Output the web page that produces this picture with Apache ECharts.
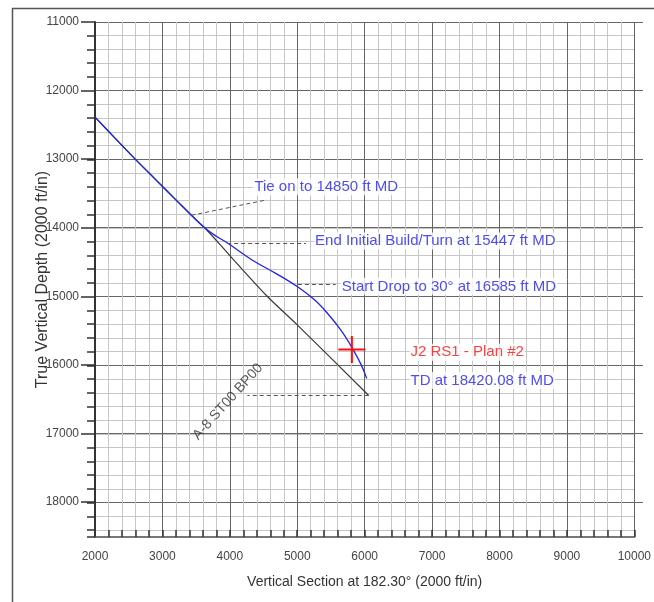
<!DOCTYPE html>
<html>
<head>
<meta charset="utf-8">
<title>Vertical Section</title>
<script src="https://cdn.jsdelivr.net/npm/echarts@6/dist/echarts.min.js"></script>
<style>
html, body { margin: 0; padding: 0; background: #fff; }
#chart { width: 654px; height: 602px; }
</style>
</head>
<body>
<div id="chart"></div>
<script>
// vertical section (ft) and true vertical depth (ft)
var planVs  = [2000, 2300, 2600, 2900, 3200, 3430, 3630, 3800, 3960, 4330, 4680, 5010, 5260, 5450, 5650, 5790, 5940, 6030];
var planTvd = [12385, 12695, 13000, 13295, 13590, 13815, 14000, 14120, 14215, 14465, 14660, 14860, 15050, 15245, 15490, 15705, 15975, 16190];
var refVs   = [2000, 2300, 2600, 2900, 3200, 3430, 3630, 3990, 4550, 5000, 6060];
var refTvd  = [12385, 12695, 13000, 13295, 13590, 13815, 14000, 14390, 14990, 15410, 16440];
var targetVs = 5810, targetTvd = 15770;

var noteText = ['Tie on to 14850 ft MD', 'End Initial Build/Turn at 15447 ft MD',
                'Start Drop to 30\u00b0 at 16585 ft MD', 'J2 RS1 - Plan #2', 'TD at 18420.08 ft MD'];
var noteVs  = [4350, 5250, 5645, 6665, 6665];
var noteTvd = [13400, 14190, 14850, 15810, 16220];

// dashed leaders: well point -> note
var leadFromVs  = [3430, 3960, 5010, 6060];
var leadFromTvd = [13815, 14215, 14820, 16440];
var leadToVs    = [4550, 5130, 5570, 4260];
var leadToTvd   = [13590, 14215, 14820, 16440];

var wellName = 'A-8 ST00 BP00', wellNameVs = 3970, wellNameTvd = 16530;

var FONT = 'Liberation Sans, Arial, sans-serif';
var BLUE = '#2020f0', RED = '#ff1010';

function pairs(a, b) { return a.map(function (v, i) { return [v, b[i]]; }); }
function plain(v) { return String(v); }

var leaders = leadFromVs.map(function (v, i) {
  return [{ coord: [v, leadFromTvd[i]] }, { coord: [leadToVs[i], leadToTvd[i]] }];
});

var notes = noteText.map(function (t, i) {
  return {
    value: [noteVs[i], noteTvd[i]],
    label: { formatter: t, color: i === 3 ? RED : BLUE }
  };
});

var chart = echarts.init(document.getElementById('chart'));
chart.setOption({
  animation: false,
  textStyle: { fontFamily: FONT },
  graphic: [{
    type: 'rect', shape: { x: 12.5, y: 8.5, width: 800, height: 800 },
    style: { fill: 'none', stroke: '#555', lineWidth: 1.5 }, silent: true
  }],
  grid: [
    { left: 95, right: 11, top: 22, bottom: 65 },
    { left: 95, right: 11, top: 22, bottom: 100 }
  ],
  xAxis: [{
    type: 'value', gridIndex: 0, min: 2000, max: 10000, interval: 1000,
    name: 'Vertical Section at 182.30\u00b0 (2000 ft/in)', nameLocation: 'middle', nameGap: 38,
    nameTextStyle: { fontSize: 14, color: '#333', fontFamily: FONT },
    axisLine: { lineStyle: { color: '#777', width: 2 } },
    axisTick: { inside: true, length: 7, lineStyle: { color: '#333', width: 1.5 } },
    minorTick: { show: true, splitNumber: 5, length: 7, lineStyle: { color: '#333', width: 1.5 } },
    axisLabel: { fontSize: 12, color: '#444', margin: 14, fontFamily: FONT, formatter: plain },
    splitLine: { show: true, lineStyle: { color: '#666', width: 1 } },
    minorSplitLine: { show: true, lineStyle: { color: '#c6c6c6', width: 1 } }
  }, {
    type: 'value', gridIndex: 1, min: 2000, max: 10000, show: false
  }],
  yAxis: [{
    type: 'value', gridIndex: 0, inverse: true, min: 11000, max: 18500, interval: 200,
    name: 'True Vertical Depth (2000 ft/in)', nameLocation: 'middle', nameGap: 44,
    nameTextStyle: { fontSize: 16, color: '#333', fontFamily: FONT },
    axisLine: { lineStyle: { color: '#333', width: 2 } },
    axisTick: { length: 8, lineStyle: { color: '#333', width: 1.5 } },
    axisLabel: { show: false },
    splitLine: { show: true, lineStyle: { color: '#c6c6c6', width: 1 } }
  }, {
    type: 'value', gridIndex: 1, inverse: true, min: 11000, max: 18000, interval: 1000,
    axisLine: { show: false },
    axisTick: { length: 14, lineStyle: { color: '#333', width: 1.5 } },
    axisLabel: { fontSize: 12, color: '#444', margin: 16, fontFamily: FONT, formatter: plain },
    splitLine: { show: true, lineStyle: { color: '#666', width: 1 } }
  }],
  series: [{
    name: wellName, type: 'line', xAxisIndex: 0, yAxisIndex: 0,
    data: pairs(refVs, refTvd), showSymbol: false, z: 3, smooth: 0.3,
    lineStyle: { color: '#3a3a3a', width: 1.2 },
    markLine: {
      silent: true, symbol: 'none', label: { show: false },
      lineStyle: { type: [4, 3], color: '#555', width: 1 },
      data: leaders
    }
  }, {
    name: 'J2 RS1 - Plan #2', type: 'line', xAxisIndex: 0, yAxisIndex: 0,
    data: pairs(planVs, planTvd), showSymbol: false, z: 4, smooth: 0.4,
    lineStyle: { color: BLUE, width: 1.3 }
  }, {
    name: 'target', type: 'scatter', xAxisIndex: 0, yAxisIndex: 0, z: 5,
    data: [[targetVs, targetTvd]],
    symbol: 'path://M12,0h2v12h12v2h-12v12h-2v-12h-12v-2h12z', symbolSize: 27,
    itemStyle: { color: RED, opacity: 1 }
  }, {
    name: 'notes', type: 'scatter', xAxisIndex: 0, yAxisIndex: 0, z: 6,
    data: notes, symbolSize: 0, silent: true,
    label: {
      show: true, position: 'right', distance: 0, fontSize: 15, fontFamily: FONT,
      backgroundColor: '#fff', padding: [1, 1]
    }
  }, {
    name: 'well name', type: 'scatter', xAxisIndex: 0, yAxisIndex: 0, z: 6,
    data: [[wellNameVs, wellNameTvd]], symbolSize: 0, silent: true,
    label: {
      show: true, position: 'inside', rotate: 48, formatter: wellName,
      color: '#333', fontSize: 14, fontFamily: FONT
    }
  }]
});
</script>
</body>
</html>
